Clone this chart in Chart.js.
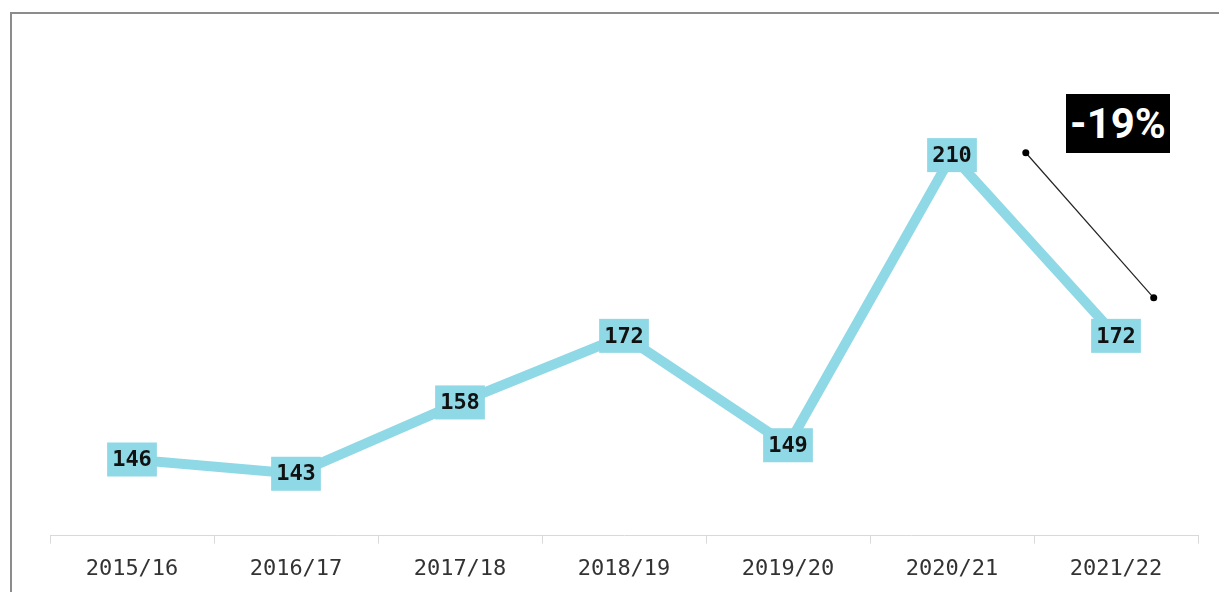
<!DOCTYPE html>
<html>
<head>
<meta charset="utf-8">
<script src="https://cdn.jsdelivr.net/npm/chart.js@4"></script>
<style>
  html, body { margin: 0; padding: 0; background: #fff; }
  body { width: 1219px; height: 592px; overflow: hidden; position: relative; }
  .frame { position: absolute; left: 10px; top: 12px; width: 1300px; height: 700px; border: 2px solid #8c8c8c; box-sizing: border-box; }
  .wrap { position: absolute; left: 0; top: 0; width: 1219px; height: 592px; }
  .change { position: absolute; left: 1066px; top: 94px; width: 104px; height: 59px; background: #000; color: #fff;
    font: bold 42px Roboto, sans-serif; line-height: 59px; text-align: center; }
</style>
</head>
<body>
<div class="frame"></div>
<div class="wrap"><canvas id="chart" width="1219" height="592"></canvas></div>
<div class="change">-19%</div>
<script>
/* ── Data ────────────────────────────────────────────── */
const seasons = ['2015/16', '2016/17', '2017/18', '2018/19', '2019/20', '2020/21', '2021/22'];
const counts = [146, 143, 158, 172, 149, 210, 172];

// connector for the change badge: [index, value] at each end
const connectorFrom = [5.45, 210.5];
const connectorTo = [6.23, 180];

const LINE = '#8fd8e6';

/* ── Plugins ─────────────────────────────────────────── */
const valueBoxes = {
  id: 'valueBoxes',
  afterDatasetsDraw(chart) {
    const { ctx } = chart;
    const meta = chart.getDatasetMeta(0);
    ctx.save();
    ctx.font = 'bold 22px "DejaVu Sans Mono", monospace';
    ctx.textAlign = 'center';
    ctx.textBaseline = 'middle';
    meta.data.forEach((pt, i) => {
      const txt = String(counts[i]);
      const w = ctx.measureText(txt).width + 10;
      const h = 34;
      ctx.fillStyle = LINE;
      ctx.fillRect(pt.x - w / 2, pt.y - h / 2, w, h);
      ctx.fillStyle = '#111';
      ctx.fillText(txt, pt.x, pt.y + 1);
    });
    ctx.restore();
  }
};

const connector = {
  id: 'connector',
  afterDatasetsDraw(chart) {
    const { ctx, scales: { x, y } } = chart;
    const px = v => x.getPixelForValue(0) + v * (x.getPixelForValue(1) - x.getPixelForValue(0));
    const x1 = px(connectorFrom[0]), y1 = y.getPixelForValue(connectorFrom[1]);
    const x2 = px(connectorTo[0]), y2 = y.getPixelForValue(connectorTo[1]);
    ctx.save();
    ctx.strokeStyle = '#222';
    ctx.lineWidth = 1.2;
    ctx.beginPath();
    ctx.moveTo(x1, y1);
    ctx.lineTo(x2, y2);
    ctx.stroke();
    ctx.fillStyle = '#000';
    [[x1, y1], [x2, y2]].forEach(([a, b]) => {
      ctx.beginPath();
      ctx.arc(a, b, 3.5, 0, Math.PI * 2);
      ctx.fill();
    });
    ctx.restore();
  }
};

/* ── Chart ───────────────────────────────────────────── */
new Chart(document.getElementById('chart'), {
  type: 'line',
  data: {
    labels: seasons,
    datasets: [{
      data: counts,
      borderColor: LINE,
      borderWidth: 10,
      pointRadius: 0,
      tension: 0,
      fill: false
    }]
  },
  options: {
    responsive: false,
    animation: false,
    layout: { padding: { left: 50, right: 21, top: 60, bottom: -2 } },
    plugins: { legend: { display: false }, tooltip: { enabled: false } },
    scales: {
      x: {
        offset: true,
        border: { display: true, color: '#d9d9d9', width: 1 },
        grid: { offset: true, drawOnChartArea: false, drawTicks: true, tickLength: 8, color: '#d9d9d9' },
        ticks: { color: '#333', padding: 12, font: { family: '"DejaVu Sans Mono", monospace', size: 22 } }
      },
      y: {
        display: false,
        min: 130,
        max: 230
      }
    }
  },
  plugins: [valueBoxes, connector]
});
</script>
</body>
</html>
